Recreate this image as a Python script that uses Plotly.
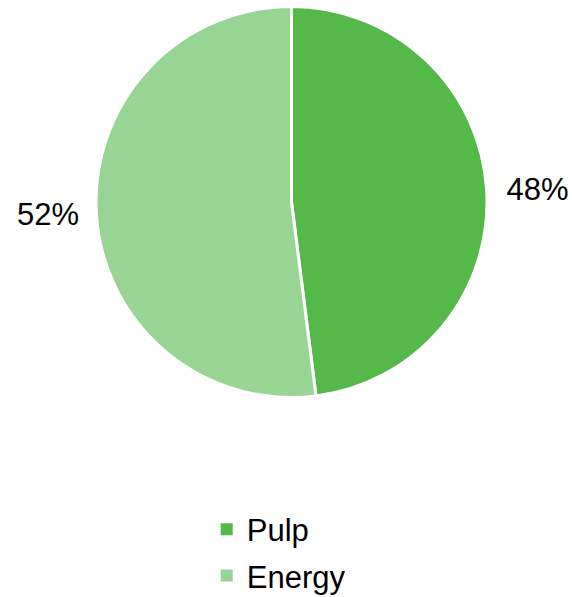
import plotly.graph_objects as go

labels = ["Pulp", "Energy"]
values = [48, 52]
colors = ["#54B948", "#98D494"]
label_templates = ["\u00a0\u200a%{percent:.0%}", "%{percent:.0%}\u00a0"]

W, H = 572, 597
cx, cy, r = 291.5, 202, 195.5

fig = go.Figure()
fig.add_trace(go.Pie(
    labels=labels, values=values, sort=False, direction="clockwise", rotation=0,
    marker=dict(colors=colors, line=dict(color="white", width=3)),
    texttemplate=label_templates, textposition="outside",
    textfont=dict(size=31, color="black", family="Liberation Sans"),
    showlegend=False,
    domain=dict(x=[(cx - r) / W, (cx + r) / W], y=[1 - (cy + r) / H, 1 - (cy - r) / H]),
    hoverinfo="label+percent",
))
for lab, col in zip(labels, colors):
    fig.add_trace(go.Scatter(
        x=[None], y=[None], mode="markers", name=lab, legendgroup=lab,
        marker=dict(symbol="square", size=12, color=col),
    ))

fig.update_layout(
    width=W, height=H, margin=dict(l=0, r=0, t=0, b=0, autoexpand=False),
    paper_bgcolor="white", plot_bgcolor="white",
    xaxis=dict(visible=False), yaxis=dict(visible=False),
    font=dict(family="Liberation Sans", size=31, color="black"),
    legend=dict(x=0.3614, y=0.0745, xanchor="left", yanchor="middle",
                tracegroupgap=3, font=dict(size=31), itemsizing="trace"),
)
fig.write_html(
    "out.html",
    config={"displayModeBar": False},
    post_script="document.body.style.margin='0';document.body.style.overflow='hidden';",
)
